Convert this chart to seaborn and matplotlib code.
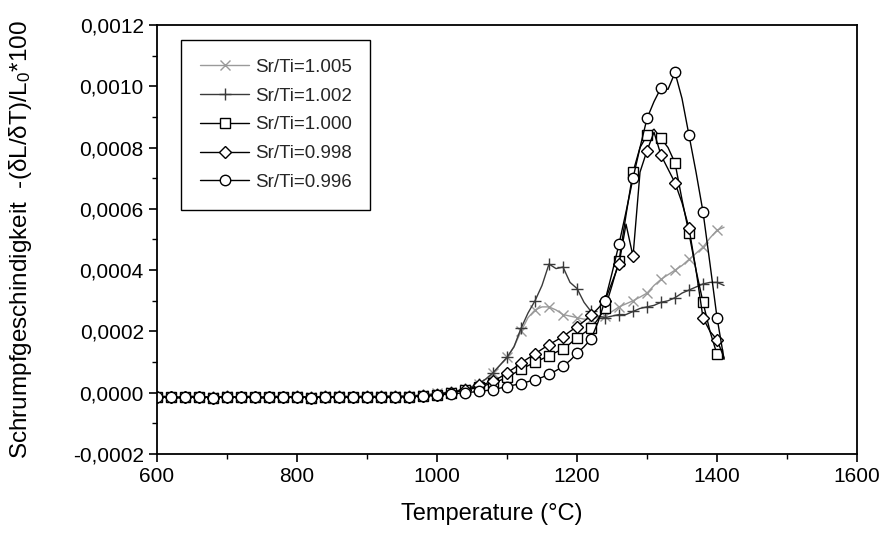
import matplotlib
matplotlib.use("Agg")
import matplotlib.pyplot as plt
import seaborn as sns
import pandas as pd
from matplotlib.ticker import FuncFormatter, MultipleLocator

# Temperature grid (°C), 10 °C sampling
temperature = list(range(600, 1420, 10))

base_a = [-1.5e-5, -1.4e-5, -1.5e-5, -1.6e-5, -1.5e-5, -1.4e-5, -1.5e-5, -1.5e-5, -1.6e-5, -1.5e-5,
          -1.4e-5, -1.5e-5, -1.5e-5, -1.4e-5, -1.5e-5, -1.6e-5, -1.5e-5, -1.4e-5, -1.5e-5, -1.5e-5,
          -1.4e-5, -1.5e-5, -1.6e-5, -1.5e-5, -1.4e-5, -1.5e-5, -1.5e-5, -1.4e-5, -1.5e-5, -1.4e-5,
          -1.4e-5, -1.5e-5, -1.4e-5, -1.4e-5, -1.3e-5, -1.3e-5]
base_b = [-1.3e-5, -1.2e-5, -1.3e-5, -1.4e-5, -1.3e-5, -1.2e-5, -1.3e-5, -1.3e-5, -1.4e-5, -1.3e-5,
          -1.2e-5, -1.3e-5, -1.3e-5, -1.2e-5, -1.3e-5, -1.4e-5, -1.3e-5, -1.2e-5, -1.3e-5, -1.3e-5,
          -1.2e-5, -1.3e-5, -1.3e-5, -1.3e-5, -1.2e-5, -1.3e-5, -1.2e-5, -1.2e-5, -1.3e-5, -1.2e-5,
          -1.2e-5, -1.2e-5, -1.2e-5, -1.1e-5, -1.1e-5, -1.1e-5]

sr_ti_1005 = base_b + [
    -1.0e-5, -0.8e-5, -0.6e-5, -0.4e-5, -0.2e-5, 0.0, 0.3e-5, 0.7e-5, 1.2e-5, 2.0e-5,
    3.0e-5, 4.5e-5, 6.5e-5, 9.0e-5, 1.15e-4, 1.5e-4, 2.0e-4, 2.45e-4, 2.7e-4, 2.8e-4,
    2.8e-4, 2.7e-4, 2.55e-4, 2.5e-4, 2.45e-4, 2.4e-4, 2.42e-4, 2.45e-4, 2.5e-4, 2.65e-4,
    2.8e-4, 2.9e-4, 3.0e-4, 3.12e-4, 3.25e-4, 3.5e-4, 3.7e-4, 3.85e-4, 4.0e-4, 4.15e-4,
    4.35e-4, 4.55e-4, 4.75e-4, 5.05e-4, 5.3e-4, 5.4e-4]

sr_ti_1002 = base_b + [
    -1.2e-5, -1.0e-5, -0.8e-5, -0.6e-5, -0.3e-5, 0.0, 0.3e-5, 0.7e-5, 1.2e-5, 2.0e-5,
    3.0e-5, 4.5e-5, 6.5e-5, 9.0e-5, 1.15e-4, 1.5e-4, 2.1e-4, 2.6e-4, 3.0e-4, 3.5e-4,
    4.2e-4, 4.05e-4, 4.1e-4, 3.6e-4, 3.4e-4, 2.95e-4, 2.65e-4, 2.5e-4, 2.45e-4, 2.5e-4,
    2.55e-4, 2.55e-4, 2.65e-4, 2.75e-4, 2.8e-4, 2.85e-4, 2.95e-4, 3.0e-4, 3.1e-4, 3.25e-4,
    3.35e-4, 3.45e-4, 3.55e-4, 3.6e-4, 3.6e-4, 3.5e-4]

sr_ti_1000 = base_a + [
    -1.3e-5, -1.2e-5, -1.1e-5, -0.9e-5, -0.6e-5, -0.3e-5, 0.0, 0.4e-5, 0.8e-5, 1.3e-5,
    1.9e-5, 2.5e-5, 3.2e-5, 4.0e-5, 5.0e-5, 6.3e-5, 7.7e-5, 8.8e-5, 1.0e-4, 1.1e-4,
    1.21e-4, 1.32e-4, 1.43e-4, 1.6e-4, 1.8e-4, 1.95e-4, 2.1e-4, 2.4e-4, 2.75e-4, 3.5e-4,
    4.3e-4, 5.8e-4, 7.2e-4, 8.0e-4, 8.4e-4, 8.6e-4, 8.3e-4, 8.0e-4, 7.5e-4, 6.3e-4,
    5.2e-4, 4.0e-4, 2.95e-4, 2.0e-4, 1.25e-4, 1.1e-4]

sr_ti_0998 = base_a + [
    -1.3e-5, -1.2e-5, -1.1e-5, -0.9e-5, -0.6e-5, -0.3e-5, 0.0, 0.5e-5, 1.0e-5, 1.6e-5,
    2.4e-5, 3.0e-5, 3.8e-5, 5.0e-5, 6.5e-5, 8.0e-5, 9.7e-5, 1.12e-4, 1.27e-4, 1.42e-4,
    1.57e-4, 1.7e-4, 1.83e-4, 2.0e-4, 2.16e-4, 2.33e-4, 2.52e-4, 2.75e-4, 3.0e-4, 3.6e-4,
    4.2e-4, 5.5e-4, 4.45e-4, 7.2e-4, 7.9e-4, 8.5e-4, 7.75e-4, 7.3e-4, 6.85e-4, 6.2e-4,
    5.37e-4, 4.0e-4, 2.44e-4, 2.0e-4, 1.73e-4, 1.14e-4]

sr_ti_0996 = base_a + [
    -1.3e-5, -1.2e-5, -1.2e-5, -1.0e-5, -0.9e-5, -0.6e-5, -0.4e-5, -0.2e-5, 0.0, 0.2e-5,
    0.4e-5, 0.7e-5, 1.0e-5, 1.5e-5, 2.0e-5, 2.5e-5, 3.0e-5, 3.6e-5, 4.3e-5, 5.0e-5,
    6.0e-5, 7.2e-5, 8.6e-5, 1.05e-4, 1.28e-4, 1.5e-4, 1.75e-4, 2.3e-4, 3.0e-4, 3.9e-4,
    4.85e-4, 5.9e-4, 7.0e-4, 8.0e-4, 8.95e-4, 9.5e-4, 9.95e-4, 9.9e-4, 1.045e-3, 9.6e-4,
    8.4e-4, 7.2e-4, 5.9e-4, 4.2e-4, 2.45e-4, 1.1e-4]

labels = ["Sr/Ti=1.005", "Sr/Ti=1.002", "Sr/Ti=1.000", "Sr/Ti=0.998", "Sr/Ti=0.996"]
series = [sr_ti_1005, sr_ti_1002, sr_ti_1000, sr_ti_0998, sr_ti_0996]
colors = ["#9a9a9a", "#3a3a3a", "#000000", "#000000", "#000000"]
markers = ["x", "+", "s", "D", "o"]
msizes = [7, 8, 6.5, 6.5, 7.5]

sns.set_theme(style="ticks")
plt.rcParams["font.family"] = ["Liberation Sans", "DejaVu Sans"]
plt.rcParams["mathtext.fontset"] = "custom"
plt.rcParams["mathtext.rm"] = "Liberation Sans"
plt.rcParams["mathtext.it"] = "Liberation Sans:italic"

fig = plt.figure(figsize=(8.87, 5.42), dpi=100)
ax = fig.add_axes([0.177, 0.1624, 0.7892, 0.7915])

for lab, vals, col, mk, ms in zip(labels, series, colors, markers, msizes):
    df = pd.DataFrame({"T": temperature, "v": vals})
    sns.lineplot(data=df, x="T", y="v", ax=ax, color=col, linewidth=1.0,
                 marker=mk, markersize=ms, markerfacecolor="white",
                 markeredgecolor=col, markeredgewidth=1.0, markevery=2,
                 label=lab, legend=False)

ax.set_xlim(600, 1600)
ax.set_ylim(-0.0002, 0.0012)
ax.xaxis.set_major_locator(MultipleLocator(200))
ax.xaxis.set_minor_locator(MultipleLocator(100))
ax.yaxis.set_major_locator(MultipleLocator(0.0002))
ax.yaxis.set_minor_locator(MultipleLocator(0.0001))
ax.yaxis.set_major_formatter(FuncFormatter(lambda v, p: f"{v:.4f}".replace(".", ",").replace("-0,0000", "0,0000")))
ax.tick_params(axis="both", which="major", direction="out", length=6, width=1.2,
               labelsize=15, color="black", labelcolor="black")
ax.tick_params(axis="both", which="minor", direction="out", length=3.5, width=1.0, color="black")
ax.tick_params(top=False, right=False, which="both")
for s in ax.spines.values():
    s.set_visible(True)
    s.set_color("black")
    s.set_linewidth(1.3)

ax.set_xlabel("Temperature (°C)", fontsize=17, color="black")
ax.set_ylabel("Schrumpfgeschindigkeit  -(δL/δT)/L$_0$*100", fontsize=17.5, color="black")
ax.xaxis.set_label_coords(0.478, -0.115)
ax.yaxis.set_label_coords(-0.175, 0.5)

leg = ax.legend(loc="upper left", bbox_to_anchor=(0.035, 0.965), fontsize=13.5,
                frameon=True, fancybox=False, edgecolor="black", framealpha=1,
                handlelength=2.6, handletextpad=0.3, labelspacing=0.62,
                borderpad=1.0, borderaxespad=0)
leg.get_frame().set_linewidth(1.0)

fig.savefig("out.png", dpi=100)
